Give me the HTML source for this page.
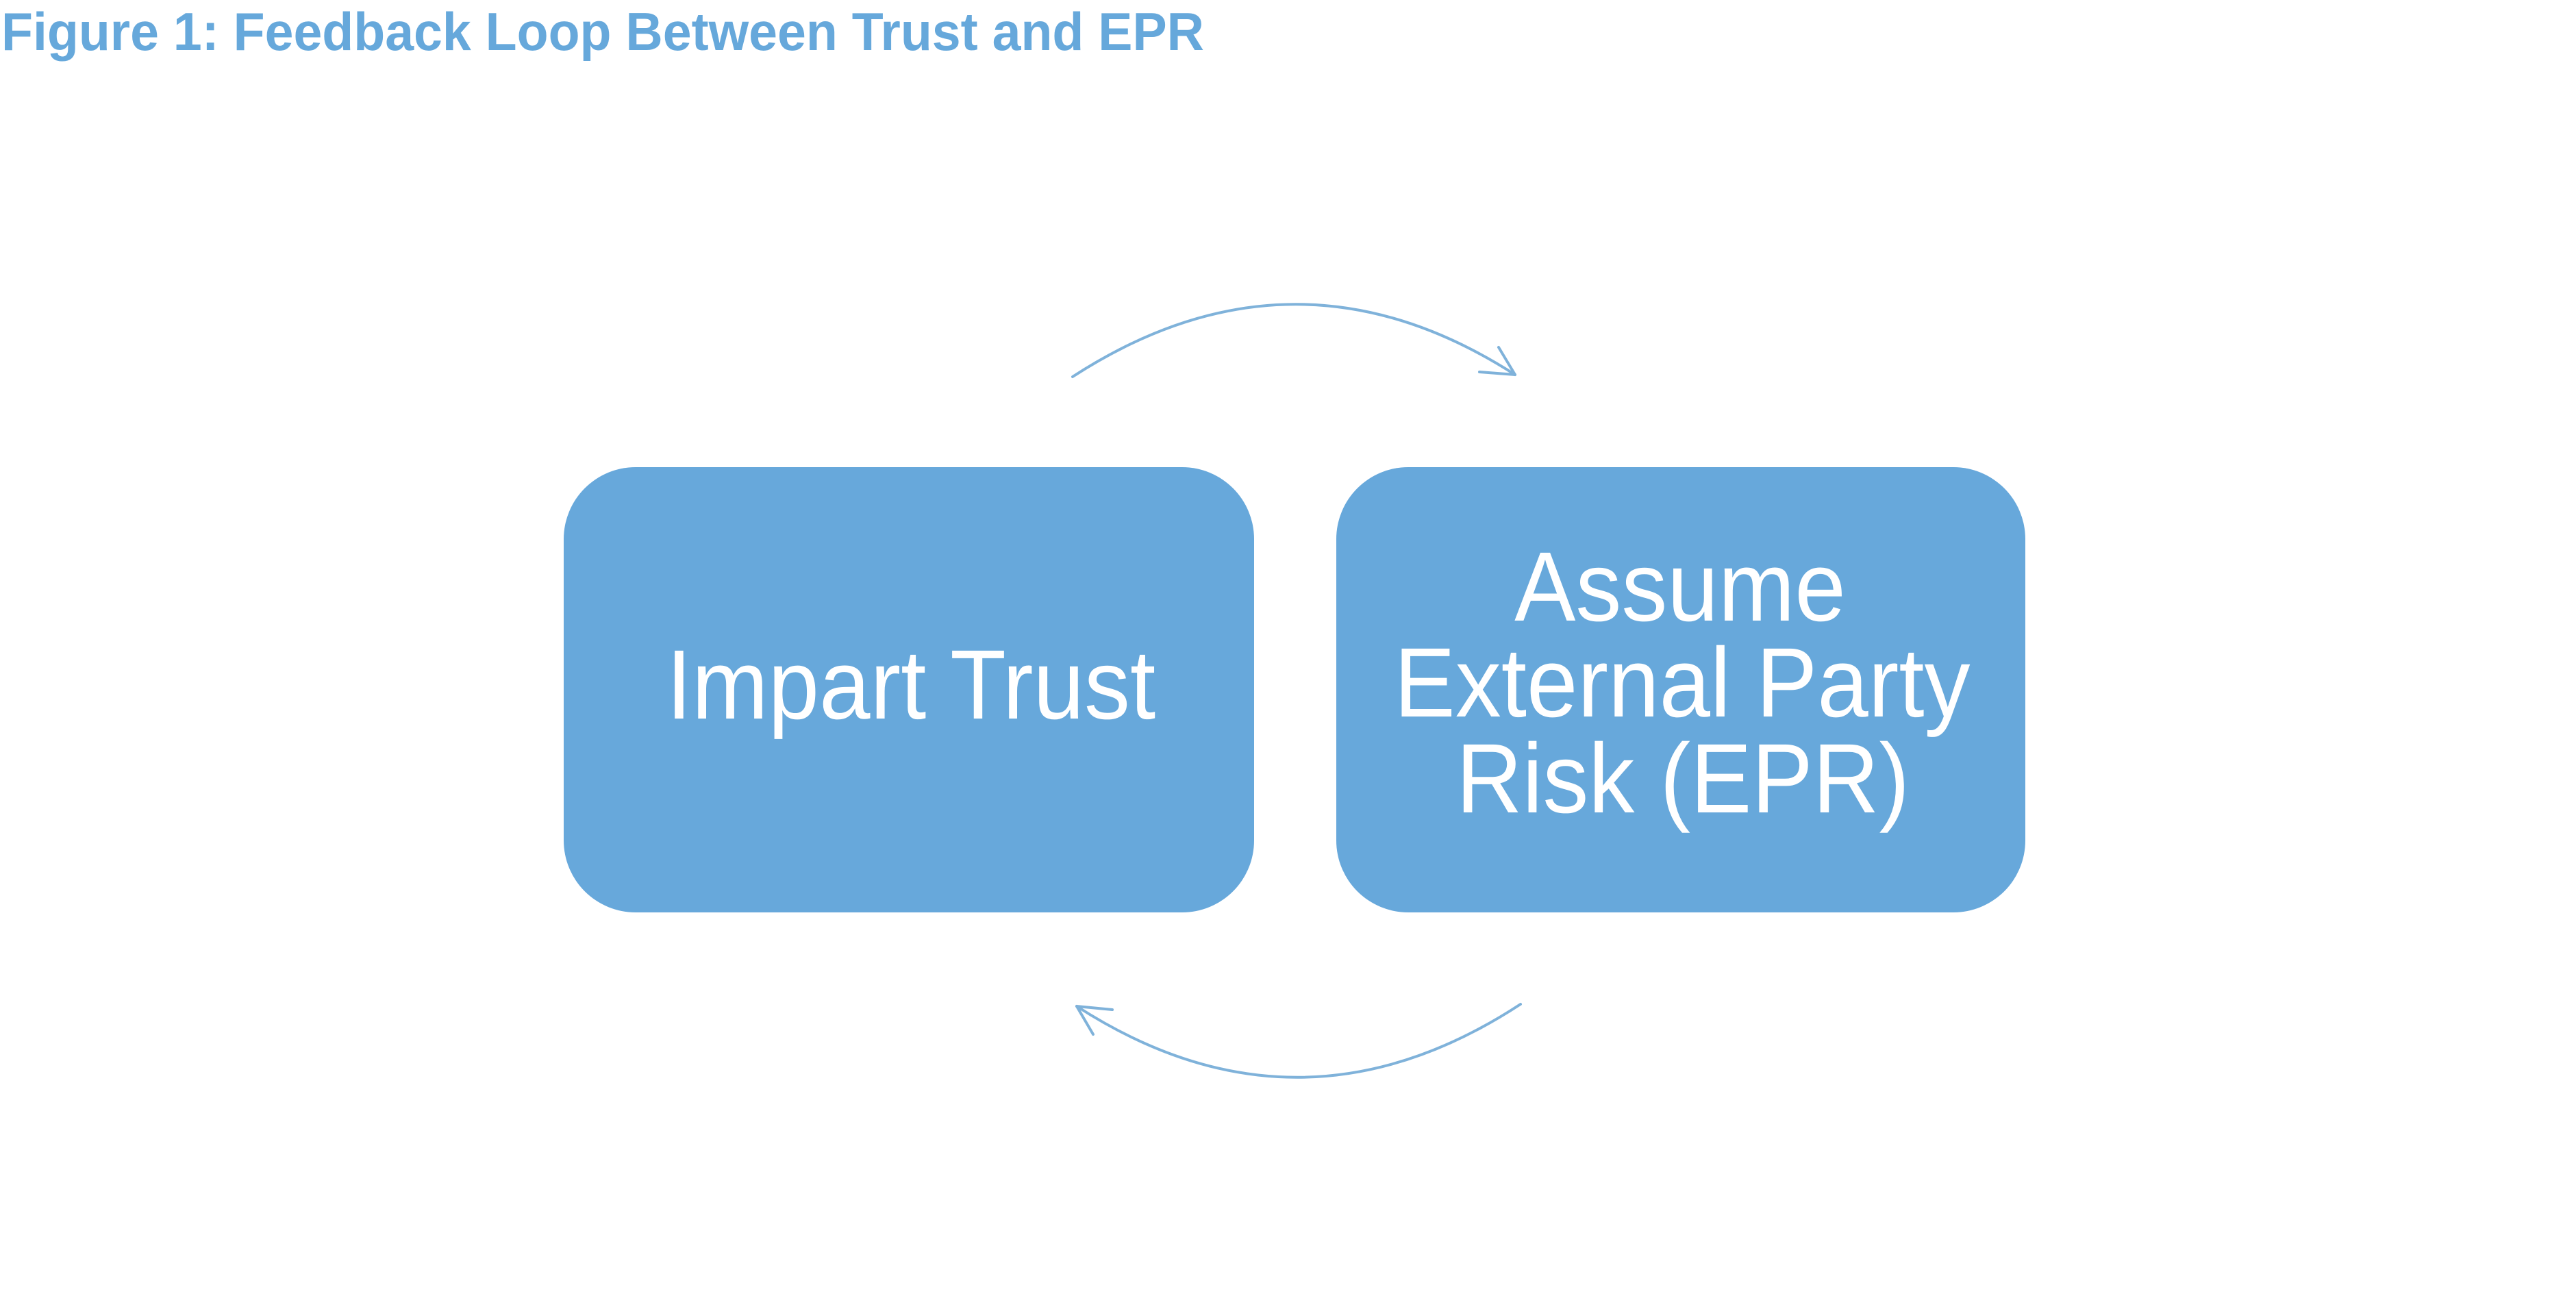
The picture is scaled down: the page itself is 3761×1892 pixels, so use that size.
<!DOCTYPE html>
<html><head><meta charset="utf-8"><style>
html,body{margin:0;padding:0;background:#fff;}
body{width:3761px;height:1887px;overflow:hidden;position:relative;}
</style></head><body>
<svg width="3761" height="1887" viewBox="0 0 3761 1887" xmlns="http://www.w3.org/2000/svg">
<text x="2" y="73" font-family="Liberation Sans, Arial, sans-serif" font-weight="bold" font-size="78" fill="#66a8db" textLength="1756" lengthAdjust="spacingAndGlyphs">Figure 1: Feedback Loop Between Trust and EPR</text>
<rect x="823" y="682" width="1008" height="650" rx="105" ry="105" fill="#67a8db"/>
<rect x="1951" y="682" width="1006" height="650" rx="105" ry="105" fill="#67a8db"/>
<g font-family="Liberation Sans, Arial, sans-serif" font-size="144" fill="#fff" text-anchor="middle">
<text transform="translate(1330 1049) scale(0.93 1)">Impart Trust</text>
<text transform="translate(2453 906) scale(0.93 1)">Assume</text>
<text transform="translate(2456 1046) scale(0.93 1)">External Party</text>
<text transform="translate(2457 1186) scale(0.93 1)">Risk (EPR)</text>
</g>
<g fill="none" stroke="#7fb2da" stroke-width="4" stroke-linecap="round" stroke-linejoin="round">
<path d="M1566 550 Q1890 340 2212 547"/>
<path d="M2212 547 L2160 543 M2212 547 L2188 507"/>
<path d="M2220 1466 Q1896 1678 1572 1469"/>
<path d="M1572 1469 L1624 1474 M1572 1469 L1596 1510"/>
</g>
</svg>
</body></html>
